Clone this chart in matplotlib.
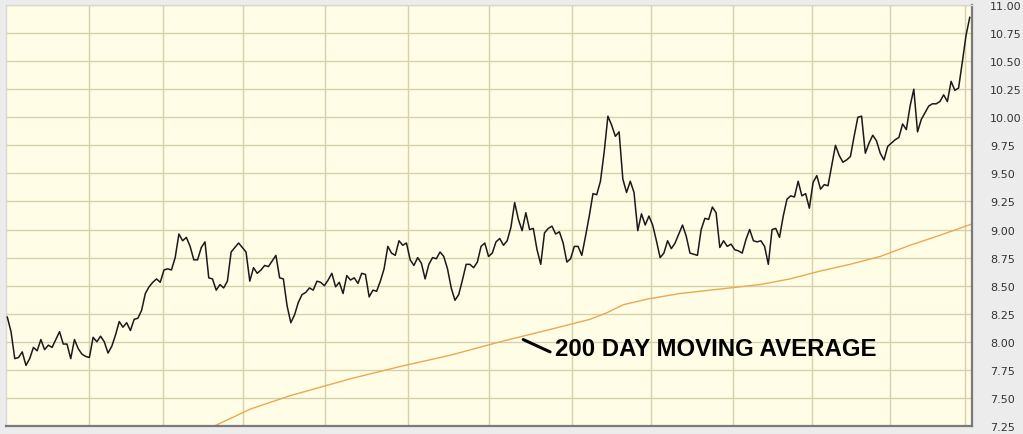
import matplotlib
matplotlib.use("Agg")
import matplotlib.pyplot as plt
import numpy as np

# daily closing prices (one value per trading day)
price = [
    8.22, 8.09, 7.85, 7.86, 7.91, 7.79, 7.85, 7.95, 7.92, 8.02,
    7.93, 7.97, 7.95, 8.02, 8.09, 7.98, 7.98, 7.85, 8.02, 7.94,
    7.89, 7.87, 7.86, 8.04, 8.00, 8.05, 8.00, 7.90, 7.96, 8.06,
    8.18, 8.13, 8.17, 8.10, 8.20, 8.21, 8.28, 8.43, 8.49, 8.53,
    8.56, 8.53, 8.64, 8.65, 8.64, 8.75, 8.96, 8.90, 8.93, 8.85,
    8.73, 8.73, 8.84, 8.89, 8.57, 8.56, 8.46, 8.51, 8.48, 8.54,
    8.80, 8.84, 8.88, 8.84, 8.80, 8.54, 8.66, 8.61, 8.64, 8.68,
    8.67, 8.72, 8.77, 8.57, 8.56, 8.32, 8.17, 8.24, 8.35, 8.42,
    8.44, 8.48, 8.46, 8.54, 8.53, 8.50, 8.55, 8.61, 8.49, 8.53,
    8.43, 8.59, 8.55, 8.57, 8.52, 8.61, 8.60, 8.40, 8.46, 8.45,
    8.54, 8.65, 8.85, 8.79, 8.77, 8.90, 8.86, 8.88, 8.73, 8.68,
    8.75, 8.70, 8.56, 8.69, 8.75, 8.74, 8.80, 8.76, 8.65, 8.48,
    8.37, 8.42, 8.55, 8.69, 8.69, 8.66, 8.71, 8.85, 8.88, 8.76,
    8.79, 8.89, 8.92, 8.86, 8.90, 9.02, 9.24, 9.09, 8.99, 9.15,
    9.00, 9.01, 8.82, 8.69, 8.97, 9.01, 9.03, 8.96, 8.98, 8.88,
    8.71, 8.74, 8.85, 8.85, 8.77, 8.94, 9.12, 9.32, 9.31, 9.43,
    9.69, 10.01, 9.93, 9.83, 9.87, 9.45, 9.33, 9.43, 9.33, 8.99,
    9.14, 9.04, 9.12, 9.04, 8.90, 8.75, 8.79, 8.90, 8.83, 8.88,
    8.96, 9.04, 8.94, 8.79, 8.78, 8.77, 9.00, 9.10, 9.09, 9.20,
    9.15, 8.84, 8.90, 8.85, 8.87, 8.82, 8.81, 8.79, 8.91, 9.00,
    8.90, 8.89, 8.90, 8.85, 8.69, 9.00, 9.01, 8.93, 9.12, 9.27,
    9.30, 9.29, 9.43, 9.30, 9.32, 9.19, 9.42, 9.48, 9.36, 9.40,
    9.39, 9.57, 9.75, 9.66, 9.60, 9.62, 9.65, 9.83, 10.00, 10.01,
    9.68, 9.77, 9.84, 9.79, 9.68, 9.62, 9.74, 9.77, 9.80, 9.82,
    9.94, 9.89, 10.10, 10.25, 9.87, 9.98, 10.04, 10.10, 10.12, 10.12,
    10.14, 10.20, 10.14, 10.32, 10.24, 10.26, 10.49, 10.73, 10.89,
]

# 200 day moving average, read at these trading days
ma_day = [55.5, 65.1, 75.8, 91.9, 105.3, 118.7, 132.1, 145.5, 156.2, 160.8,
          165.1, 171.5, 180.3, 191.1, 201.8, 209.8, 217.9, 225.9, 234.0,
          242.0, 250.1, 258.6]
ma_value = [7.25, 7.40, 7.52, 7.67, 7.78, 7.88, 8.00, 8.11, 8.20, 8.26,
            8.33, 8.38, 8.43, 8.47, 8.51, 8.56, 8.63, 8.69, 8.76,
            8.86, 8.95, 9.05]

# month boundaries (trading day position) for the vertical grid
month_lines = [22.0, 41.8, 63.1, 85.2, 107.3, 129.2, 151.3, 172.5, 194.5,
               215.7, 236.5, 256.6]
y_ticks = np.arange(7.25, 11.01, 0.25)

days = np.arange(len(price))

fig = plt.figure(figsize=(10.23, 4.35), dpi=100)
fig.patch.set_facecolor('#ececec')
ax = fig.add_axes([6 / 1023, 8 / 435, 966 / 1023, 421 / 435])
ax.set_facecolor('#fffde6')

# grid
for m in month_lines:
    ax.axvline(m, color='#d4d1ab', lw=1, zorder=1)
for t in y_ticks:
    ax.axhline(t, color='#d4d1ab', lw=1, zorder=1)

ax.plot(ma_day, ma_value, color='#eaa852', lw=1, zorder=2)
ax.plot(days, price, color='#1a1a1a', lw=1.1, zorder=3)

# label for the moving average
ax.annotate('', xy=(138.3, 8.02), xytext=(145.5, 7.91),
            arrowprops=dict(arrowstyle='-', color='black', lw=2.2,
                            shrinkA=0, shrinkB=0), zorder=4)
ax.text(146.8, 7.886, '200 DAY MOVING AVERAGE', fontsize=17.3,
        fontweight='bold', family='Liberation Sans', color='black',
        ha='left', va='baseline', zorder=4)

ax.set_xlim(-0.35, 258.6)
ax.set_ylim(7.25, 11.0)
ax.set_xticks([])
ax.yaxis.tick_right()
ax.set_yticks(y_ticks)
ax.set_yticklabels([f'{t:.2f}' for t in y_ticks])
ax.tick_params(axis='y', length=0, pad=13, labelsize=8, labelcolor='#333333')

for side in ['bottom', 'right']:
    ax.spines[side].set_color('#7a7a7a')
    ax.spines[side].set_linewidth(1.6)
for side in ['top', 'left']:
    ax.spines[side].set_color('#d8d8d8')
    ax.spines[side].set_linewidth(1)

fig.savefig('out.png', dpi=100, facecolor=fig.get_facecolor())
